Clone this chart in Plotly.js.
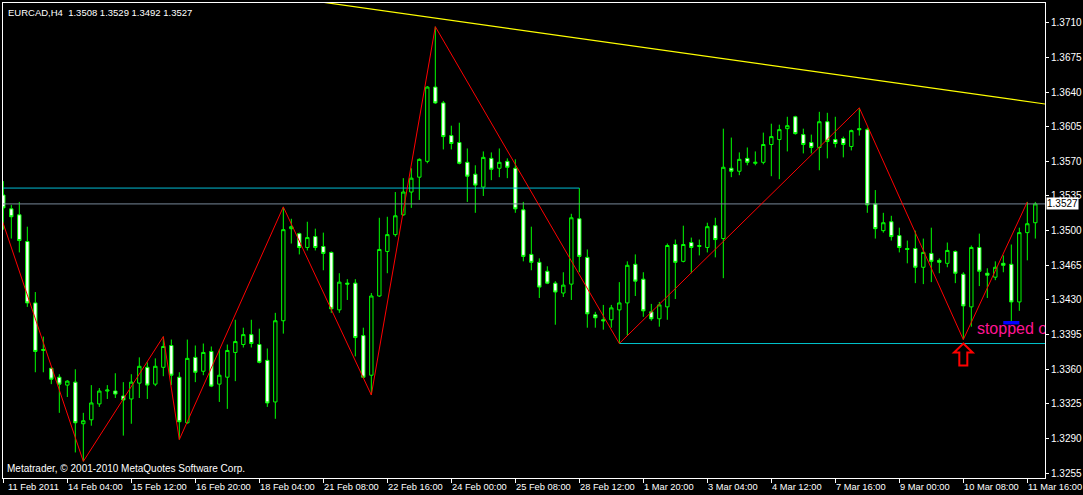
<!DOCTYPE html>
<html>
<head>
<meta charset="utf-8">
<script src="https://cdn.plot.ly/plotly-3.0.1.min.js"></script>
<style>
  html, body { margin: 0; padding: 0; background: #000; }
  #chart { width: 1083px; height: 495px; }
</style>
</head>
<body>
<div id="chart"></div>
<script>
// EURCAD H4 bars, oldest first
const open = [
  1.3536, 1.3522, 1.3516, 1.3489, 1.3427, 1.3379, 1.3361, 1.3352, 1.3344, 1.3347,
  1.3305, 1.3309, 1.3325, 1.3338, 1.3338, 1.3333, 1.3330, 1.3346, 1.3362, 1.3345,
  1.3362, 1.3384, 1.3352, 1.3306, 1.3372, 1.3358, 1.3378, 1.3345, 1.3352, 1.3377,
  1.3385, 1.3395, 1.3385, 1.3369, 1.3327, 1.3409, 1.3502, 1.3497, 1.3483, 1.3494,
  1.3484, 1.3478, 1.3420, 1.3447, 1.3447, 1.3394, 1.3354, 1.3434, 1.3479, 1.3496,
  1.3516, 1.3539, 1.3554, 1.3570, 1.3645, 1.3629, 1.3596, 1.3589, 1.3569, 1.3557,
  1.3544, 1.3573, 1.3563, 1.3570, 1.3563, 1.3521, 1.3476, 1.3468, 1.3459, 1.3447,
  1.3437, 1.3446, 1.3512, 1.3473, 1.3415, 1.3410, 1.3410, 1.3420, 1.3427, 1.3466,
  1.3451, 1.3418, 1.3411, 1.3423, 1.3486, 1.3469, 1.3488, 1.3484, 1.3483, 1.3505,
  1.3492, 1.3563, 1.3560, 1.3573, 1.3568, 1.3569, 1.3587, 1.3592, 1.3603, 1.3615,
  1.3597, 1.3589, 1.3584, 1.3610, 1.3592, 1.3593, 1.3585, 1.3603, 1.3602, 1.3527,
  1.3500, 1.3509, 1.3495, 1.3482, 1.3482, 1.3463, 1.3477, 1.3470, 1.3467, 1.3479,
  1.3456, 1.3423, 1.3483, 1.3457, 1.3453, 1.3467, 1.3466, 1.3428, 1.3498, 1.3508
];
const high = [
  1.3550, 1.3526, 1.3529, 1.3504, 1.3438, 1.3393, 1.3362, 1.3355, 1.3349, 1.3360,
  1.3316, 1.3344, 1.3341, 1.3344, 1.3356, 1.3347, 1.3355, 1.3372, 1.3367, 1.3371,
  1.3393, 1.3390, 1.3357, 1.3390, 1.3384, 1.3386, 1.3383, 1.3380, 1.3385, 1.3410,
  1.3402, 1.3410, 1.3401, 1.3381, 1.3417, 1.3524, 1.3512, 1.3498, 1.3509, 1.3502,
  1.3498, 1.3479, 1.3457, 1.3451, 1.3451, 1.3402, 1.3437, 1.3513, 1.3514, 1.3539,
  1.3553, 1.3563, 1.3573, 1.3646, 1.3706, 1.3631, 1.3606, 1.3609, 1.3583, 1.3566,
  1.3580, 1.3579, 1.3583, 1.3573, 1.3572, 1.3529, 1.3504, 1.3472, 1.3464, 1.3449,
  1.3458, 1.3517, 1.3543, 1.3481, 1.3418, 1.3425, 1.3425, 1.3448, 1.3469, 1.3476,
  1.3458, 1.3426, 1.3428, 1.3487, 1.3491, 1.3505, 1.3493, 1.3491, 1.3508, 1.3513,
  1.3603, 1.3594, 1.3579, 1.3584, 1.3580, 1.3599, 1.3608, 1.3607, 1.3615, 1.3616,
  1.3603, 1.3597, 1.3620, 1.3619, 1.3615, 1.3595, 1.3602, 1.3624, 1.3604, 1.3541,
  1.3518, 1.3515, 1.3503, 1.3490, 1.3500, 1.3492, 1.3503, 1.3472, 1.3488, 1.3480,
  1.3458, 1.3485, 1.3497, 1.3462, 1.3469, 1.3475, 1.3486, 1.3503, 1.3529, 1.3529
];
const low = [
  1.3501, 1.3492, 1.3478, 1.3423, 1.3357, 1.3357, 1.3345, 1.3316, 1.3332, 1.3276,
  1.3267, 1.3303, 1.3322, 1.3330, 1.3331, 1.3293, 1.3305, 1.3331, 1.3330, 1.3343,
  1.3353, 1.3344, 1.3289, 1.3305, 1.3347, 1.3354, 1.3342, 1.3327, 1.3320, 1.3348,
  1.3382, 1.3382, 1.3366, 1.3322, 1.3310, 1.3396, 1.3487, 1.3476, 1.3480, 1.3480,
  1.3460, 1.3417, 1.3417, 1.3430, 1.3373, 1.3351, 1.3334, 1.3433, 1.3457, 1.3494,
  1.3515, 1.3523, 1.3531, 1.3568, 1.3628, 1.3582, 1.3582, 1.3567, 1.3529, 1.3518,
  1.3535, 1.3551, 1.3554, 1.3553, 1.3518, 1.3469, 1.3460, 1.3432, 1.3446, 1.3405,
  1.3433, 1.3430, 1.3458, 1.3402, 1.3402, 1.3400, 1.3402, 1.3386, 1.3394, 1.3434,
  1.3413, 1.3409, 1.3403, 1.3410, 1.3431, 1.3468, 1.3457, 1.3475, 1.3478, 1.3473,
  1.3452, 1.3554, 1.3556, 1.3566, 1.3566, 1.3567, 1.3555, 1.3552, 1.3580, 1.3597,
  1.3578, 1.3578, 1.3561, 1.3573, 1.3584, 1.3574, 1.3581, 1.3596, 1.3518, 1.3492,
  1.3498, 1.3490, 1.3478, 1.3467, 1.3447, 1.3446, 1.3448, 1.3457, 1.3463, 1.3447,
  1.3390, 1.3403, 1.3444, 1.3432, 1.3450, 1.3458, 1.3408, 1.3419, 1.3470, 1.3492
];
const close = [
  1.3523, 1.3514, 1.3490, 1.3427, 1.3378, 1.3380, 1.3350, 1.3345, 1.3348, 1.3306,
  1.3308, 1.3326, 1.3338, 1.3339, 1.3335, 1.3329, 1.3347, 1.3363, 1.3344, 1.3363,
  1.3383, 1.3354, 1.3307, 1.3371, 1.3357, 1.3377, 1.3343, 1.3354, 1.3379, 1.3388,
  1.3395, 1.3386, 1.3367, 1.3326, 1.3409, 1.3501, 1.3504, 1.3483, 1.3493, 1.3483,
  1.3477, 1.3421, 1.3448, 1.3446, 1.3392, 1.3352, 1.3434, 1.3481, 1.3496, 1.3515,
  1.3539, 1.3553, 1.3572, 1.3645, 1.3629, 1.3595, 1.3588, 1.3568, 1.3555, 1.3546,
  1.3574, 1.3562, 1.3569, 1.3564, 1.3522, 1.3474, 1.3468, 1.3443, 1.3447, 1.3438,
  1.3445, 1.3513, 1.3474, 1.3416, 1.3412, 1.3409, 1.3422, 1.3427, 1.3465, 1.3449,
  1.3419, 1.3411, 1.3425, 1.3485, 1.3468, 1.3486, 1.3483, 1.3485, 1.3504, 1.3491,
  1.3564, 1.3560, 1.3572, 1.3569, 1.3569, 1.3587, 1.3595, 1.3602, 1.3606, 1.3598,
  1.3587, 1.3584, 1.3610, 1.3590, 1.3588, 1.3587, 1.3601, 1.3602, 1.3526, 1.3502,
  1.3508, 1.3494, 1.3483, 1.3481, 1.3463, 1.3478, 1.3469, 1.3468, 1.3480, 1.3457,
  1.3424, 1.3483, 1.3459, 1.3455, 1.3463, 1.3465, 1.3428, 1.3498, 1.3507, 1.3527
];

// bar-axis time labels, one every 8 bars
const timeTickBars = [0, 8, 16, 24, 32, 40, 48, 56, 64, 72, 80, 88, 96, 104, 112, 120, 128];
const timeTickText = [
  "11 Feb 2011", "14 Feb 04:00", "15 Feb 12:00", "16 Feb 20:00", "18 Feb 04:00",
  "21 Feb 08:00", "22 Feb 16:00", "24 Feb 00:00", "25 Feb 08:00", "28 Feb 12:00",
  "1 Mar 20:00", "3 Mar 04:00", "4 Mar 12:00", "7 Mar 16:00", "9 Mar 00:00",
  "10 Mar 08:00", "11 Mar 16:00"
];
const priceTicks = [1.3255, 1.3290, 1.3325, 1.3360, 1.3395, 1.3430, 1.3465,
                    1.3500, 1.3535, 1.3570, 1.3605, 1.3640, 1.3675, 1.3710];

// ZigZag turning points
const zigzagBars   = [-2, 10, 20, 22, 35, 46, 54, 77, 107, 120, 128];
const zigzagPrices = [1.3555, 1.3267, 1.3393, 1.3289, 1.3524, 1.3334, 1.3706, 1.3386, 1.3624, 1.3390, 1.3529];

// drawn objects
const trendBars = [30, 131];
const trendPrices = [1.3742, 1.3627];
const upperLevelBars = [-1, 72];
const upperLevelPrice = 1.3543;
const lowerLevelBars = [77, 131];
const lowerLevelPrice = 1.3386;
const bidPrice = 1.3527;
const signalBar = 120;
const signalPrice = 1.3390;
const stopBar = 126;
const stopPrice = 1.3407;
const noteBar = 121.7;
const notePrice = 1.3400;
const noteText = "stopped out";

const symbolLine = "EURCAD,H4  1.3508 1.3529 1.3492 1.3527";
const copyrightLine = "Metatrader, © 2001-2010 MetaQuotes Software Corp.";

const bars = open.map((_, i) => i);
const FONT = '"Liberation Sans", Arial, sans-serif';

const traces = [
  { type: 'scatter', mode: 'lines', x: upperLevelBars, y: upperLevelBars.map(() => upperLevelPrice),
    line: { color: '#00bcd4', width: 1 }, hoverinfo: 'skip' },
  { type: 'scatter', mode: 'lines', x: lowerLevelBars, y: lowerLevelBars.map(() => lowerLevelPrice),
    line: { color: '#00c4cc', width: 1 }, hoverinfo: 'skip' },
  { type: 'scatter', mode: 'lines', x: [-1, 131], y: [bidPrice, bidPrice],
    line: { color: '#778899', width: 1 }, hoverinfo: 'skip' },
  { type: 'scatter', mode: 'lines', x: trendBars, y: trendPrices,
    line: { color: '#ffff00', width: 1.2 }, hoverinfo: 'skip' },
  { type: 'candlestick', x: bars, open: open, high: high, low: low, close: close,
    increasing: { line: { color: '#00ff00', width: 1 }, fillcolor: '#000000' },
    decreasing: { line: { color: '#00ff00', width: 1 }, fillcolor: '#ffffff' },
    whiskerwidth: 0, hoverinfo: 'skip' },
  { type: 'scatter', mode: 'lines', x: zigzagBars, y: zigzagPrices,
    line: { color: '#ff0000', width: 1 }, hoverinfo: 'skip' },
  { type: 'scatter', mode: 'markers', x: [stopBar], y: [stopPrice],
    marker: { symbol: 'line-ew', size: 11.5, line: { width: 3.5, color: '#0000ff' } },
    hoverinfo: 'skip' },
  { type: 'scatter', mode: 'text', x: [noteBar], y: [notePrice], text: [noteText],
    textposition: 'middle right', cliponaxis: true,
    textfont: { family: FONT, size: 16, color: '#ff1493' }, hoverinfo: 'skip' }
];

const annotations = timeTickBars.map((b, i) => ({
  x: b, xref: 'x', y: 0, yref: 'paper', text: timeTickText[i],
  xanchor: 'left', yanchor: 'top', xshift: i === 0 ? 3 : -1, yshift: -2,
  showarrow: false, font: { family: FONT, size: 9.3, color: '#ffffff' }
}));
annotations.push(
  { x: 0, xref: 'paper', y: 1, yref: 'paper', text: symbolLine, xanchor: 'left', yanchor: 'top',
    xshift: 3, yshift: -2, showarrow: false, font: { family: FONT, size: 9.5, color: '#ffffff' } },
  { x: 0, xref: 'paper', y: 0, yref: 'paper', text: copyrightLine, xanchor: 'left', yanchor: 'bottom',
    xshift: 2, yshift: 2, showarrow: false, font: { family: FONT, size: 10, color: '#ffffff' } },
  { x: 1, xref: 'paper', y: bidPrice, yref: 'y', text: bidPrice.toFixed(4), xanchor: 'left',
    yanchor: 'middle', xshift: 1, showarrow: false, bgcolor: '#ffffff', borderpad: 0,
    font: { family: FONT, size: 10, color: '#000000' } }
);

const layout = {
  width: 1083, height: 495,
  margin: { l: 3, r: 38, t: 3, b: 17, pad: 0 },
  paper_bgcolor: '#000000', plot_bgcolor: '#000000',
  showlegend: false, dragmode: false, hovermode: false,
  boxgap: 0.4,
  xaxis: {
    range: [-0.04, 130.21], showgrid: false, zeroline: false,
    showline: true, linecolor: '#ffffff', linewidth: 1, mirror: true,
    ticks: 'outside', ticklen: 4, tickcolor: '#ffffff', tickwidth: 1,
    tickmode: 'array', tickvals: timeTickBars, showticklabels: false,
    rangeslider: { visible: false }, fixedrange: true
  },
  yaxis: {
    side: 'right', range: [1.32502, 1.37299], showgrid: false, zeroline: false,
    showline: true, linecolor: '#ffffff', linewidth: 1, mirror: true,
    ticks: 'outside', ticklen: 3, tickcolor: '#ffffff', tickwidth: 1,
    tickmode: 'array', tickvals: priceTicks, ticktext: priceTicks.map(v => v.toFixed(4)),
    tickfont: { family: FONT, size: 10, color: '#ffffff' }, fixedrange: true
  },
  annotations: annotations,
  shapes: [{
    type: 'path', xref: 'x', yref: 'y',
    xsizemode: 'pixel', ysizemode: 'pixel', xanchor: signalBar, yanchor: signalPrice,
    path: 'M0,-4 L9.3,-13 L4,-13 L4,-26 L-4,-26 L-4,-13 L-9.3,-13 Z',
    line: { color: '#ff0000', width: 2 }, fillcolor: '#000000', layer: 'above'
  }]
};

Plotly.newPlot('chart', traces, layout, { displayModeBar: false, staticPlot: true });
</script>
</body>
</html>
